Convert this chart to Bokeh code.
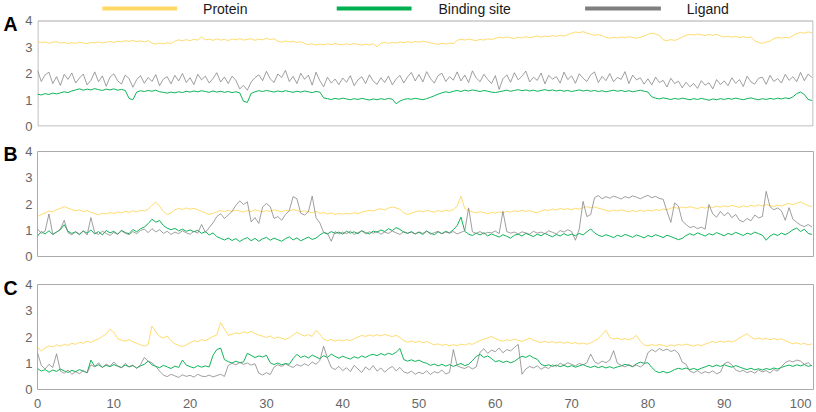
from bokeh.plotting import figure
from bokeh.layouts import column, row
from bokeh.models import Range1d, FixedTicker
from bokeh.core.properties import value
from bokeh.embed import file_html
from bokeh.resources import INLINE

# ---------------- data (time step 0.5 ns) ----------------
STEP = 0.5
series_names = ["Protein", "Binding site", "Ligand"]
series_colors = ["#FFD966", "#00B050", "#7F7F7F"]
panel_letters = ["A", "B", "C"]
x_ticks = [0, 10, 20, 30, 40, 50, 60, 70, 80, 90, 100]
y_ticks = [0, 1, 2, 3, 4]

protein_A = [
3.21,3.17,3.19,3.14,3.18,3.20,3.15,3.17,3.13,3.16,
3.14,3.18,3.15,3.12,3.17,3.16,3.19,3.15,3.18,3.21,
3.17,3.22,3.19,3.24,3.21,3.25,3.20,3.23,3.19,3.24,
3.14,3.11,3.15,3.12,3.16,3.13,3.22,3.27,3.23,3.28,
3.24,3.29,3.26,3.38,3.27,3.30,3.25,3.31,3.26,3.29,
3.24,3.30,3.27,3.32,3.26,3.29,3.31,3.25,3.30,3.27,
3.33,3.28,3.31,3.22,3.18,3.23,3.19,3.22,3.17,3.20,
3.13,3.09,3.12,3.07,3.11,3.08,3.12,3.09,3.13,3.10,
3.08,3.12,3.09,3.13,3.10,3.07,3.11,3.08,3.12,3.01,
3.14,3.18,3.13,3.17,3.15,3.19,3.16,3.20,3.17,3.21,
3.18,3.22,3.19,3.16,3.13,3.10,3.14,3.11,3.15,3.12,
3.25,3.29,3.26,3.30,3.27,3.24,3.29,3.26,3.31,3.28,
3.33,3.37,3.34,3.38,3.35,3.32,3.37,3.34,3.39,3.35,
3.38,3.42,3.37,3.41,3.39,3.43,3.40,3.44,3.41,3.47,
3.52,3.57,3.54,3.58,3.53,3.48,3.44,3.47,3.43,3.36,
3.33,3.37,3.34,3.38,3.35,3.39,3.36,3.33,3.37,3.42,
3.48,3.52,3.49,3.44,3.27,3.24,3.28,3.25,3.30,3.38,
3.44,3.48,3.45,3.49,3.46,3.43,3.47,3.44,3.48,3.42,
3.38,3.41,3.37,3.40,3.36,3.39,3.35,3.38,3.24,3.17,
3.14,3.19,3.22,3.32,3.36,3.33,3.37,3.34,3.43,3.50,
3.55,3.52,3.57,3.54]

binding_A = [
1.22,1.19,1.24,1.21,1.26,1.23,1.27,1.31,1.28,1.34,
1.38,1.42,1.37,1.41,1.38,1.43,1.39,1.36,1.41,1.38,
1.42,1.37,1.40,1.36,1.06,1.01,1.30,1.35,1.32,1.36,
1.33,1.37,1.31,1.29,1.26,1.30,1.27,1.31,1.28,1.33,
1.30,1.34,1.31,1.35,1.32,1.29,1.34,1.30,1.33,1.29,
1.32,1.28,1.31,1.27,0.95,0.91,1.25,1.31,1.35,1.32,
1.36,1.33,1.30,1.34,1.31,1.35,1.32,1.29,1.33,1.30,
1.34,1.31,1.28,1.32,1.30,1.08,1.05,1.02,1.06,1.03,
1.07,1.04,1.01,1.05,1.02,1.06,1.03,1.00,1.04,1.01,
1.05,1.02,1.06,1.03,0.86,0.96,1.02,1.05,1.03,1.06,
1.04,1.01,1.05,1.10,1.16,1.22,1.27,1.31,1.28,1.33,
1.36,1.32,1.37,1.34,1.38,1.35,1.32,1.36,1.33,1.30,
1.28,1.31,1.34,1.37,1.33,1.36,1.39,1.35,1.38,1.34,
1.37,1.33,1.36,1.39,1.35,1.38,1.34,1.37,1.33,1.36,
1.32,1.35,1.38,1.34,1.37,1.33,1.36,1.32,1.35,1.31,
1.34,1.37,1.33,1.36,1.32,1.35,1.31,1.34,1.37,1.33,
1.30,1.12,1.07,1.04,1.08,1.05,1.02,1.06,1.03,1.07,
1.04,1.01,1.05,1.02,1.06,1.03,0.99,1.04,1.01,1.05,
1.02,1.06,1.03,1.07,1.04,1.01,1.05,1.08,1.04,1.01,
1.05,1.02,1.06,1.03,1.07,1.04,1.08,1.05,1.12,1.24,
1.30,1.21,1.02,0.98]

ligand_A = [
2.12,1.70,1.95,2.05,1.62,1.88,1.55,1.97,1.78,2.02,
1.64,1.83,1.98,1.57,1.74,2.06,1.69,1.91,1.52,1.86,
1.99,1.73,1.60,1.94,1.81,1.48,1.77,1.92,1.63,1.85,
1.70,1.96,1.54,1.79,1.88,1.61,1.93,1.72,2.00,1.66,
1.84,1.58,1.97,1.76,1.90,1.64,1.81,2.03,1.68,1.87,
1.62,1.90,1.74,1.42,1.55,1.37,1.68,1.84,1.95,1.73,
2.08,1.80,1.66,1.98,1.85,2.12,1.70,1.89,1.62,2.01,
1.78,1.94,1.56,2.05,1.73,1.50,1.86,1.64,1.79,1.58,
1.83,1.67,1.92,1.54,1.76,1.88,1.62,1.95,1.71,1.59,
1.84,1.66,1.90,1.57,1.79,1.93,1.64,1.87,2.04,1.72,
1.96,1.68,2.07,1.81,1.64,1.92,2.01,1.70,1.88,1.75,
2.06,1.72,1.94,1.66,2.10,1.83,1.69,1.97,1.78,1.62,
1.92,1.40,1.80,1.95,1.67,2.03,1.76,1.90,2.09,1.68,
1.86,1.74,2.02,1.61,1.93,1.79,1.88,1.64,2.05,1.77,
1.91,1.63,1.99,1.82,1.70,1.95,2.06,1.66,1.89,1.73,
2.00,1.69,1.85,1.78,2.07,1.62,1.94,1.76,1.84,1.60,
1.80,1.57,1.86,1.66,1.74,1.49,1.82,1.62,1.71,1.46,
1.67,1.50,1.62,1.44,1.73,1.56,1.65,1.42,1.77,1.58,
1.72,1.54,1.84,1.63,1.77,1.51,1.90,1.68,1.60,1.82,
1.86,1.59,1.93,1.70,1.81,1.64,1.97,1.74,1.88,1.69,
2.04,1.73,1.98,1.85]

protein_B = [
1.52,1.60,1.66,1.73,1.70,1.78,1.83,1.90,1.84,1.79,
1.74,1.78,1.71,1.75,1.68,1.63,1.59,1.65,1.62,1.67,
1.64,1.70,1.66,1.72,1.68,1.74,1.70,1.76,1.73,1.80,
1.95,2.07,1.91,1.72,1.60,1.66,1.78,1.83,1.79,1.85,
1.80,1.84,1.78,1.72,1.66,1.60,1.64,1.70,1.75,1.71,
1.76,1.72,1.77,1.73,1.69,1.75,1.71,1.78,1.74,1.70,
1.75,1.72,1.78,1.74,1.70,1.76,1.73,1.79,1.75,1.71,
1.74,1.70,1.67,1.72,1.64,1.68,1.62,1.66,1.60,1.64,
1.61,1.65,1.62,1.67,1.63,1.69,1.72,1.76,1.73,1.79,
1.82,1.77,1.84,1.89,1.85,1.80,1.66,1.60,1.65,1.70,
1.74,1.70,1.76,1.72,1.69,1.75,1.71,1.77,1.73,1.79,
1.92,2.30,1.82,1.74,1.70,1.66,1.71,1.67,1.63,1.68,
1.65,1.70,1.66,1.72,1.69,1.74,1.71,1.76,1.72,1.75,
1.70,1.66,1.73,1.78,1.75,1.81,1.77,1.83,1.79,1.82,
1.78,1.84,1.80,1.86,1.90,1.85,1.89,1.84,1.80,1.76,
1.72,1.77,1.73,1.78,1.74,1.70,1.75,1.71,1.76,1.72,
1.77,1.73,1.79,1.75,1.81,1.78,1.84,1.87,1.83,1.89,
1.85,1.90,1.86,1.82,1.88,1.84,1.90,1.86,1.92,1.88,
1.93,1.89,1.95,1.91,1.87,1.93,1.89,1.95,1.91,1.97,
1.92,1.98,1.94,1.90,1.96,1.92,1.98,2.02,1.97,2.03,
2.08,2.01,1.94,1.90]

binding_B = [
0.78,0.95,0.86,0.98,0.84,0.93,1.02,1.21,0.96,0.88,
0.94,0.83,0.97,0.89,1.01,0.86,0.95,0.82,0.99,0.90,
0.96,0.85,1.00,0.91,0.87,1.03,0.94,1.06,1.12,1.25,
1.42,1.31,1.37,1.18,1.08,1.02,1.07,0.98,1.04,0.96,
1.01,0.94,1.00,0.88,0.95,0.82,0.90,0.76,0.69,0.63,
0.70,0.61,0.68,0.57,0.66,0.72,0.60,0.69,0.58,0.67,
0.73,0.62,0.70,0.64,0.58,0.68,0.75,0.63,0.71,0.60,
0.67,0.74,0.65,0.70,0.82,0.91,0.86,0.95,0.88,0.93,
0.85,0.96,0.89,0.94,0.87,0.98,0.91,0.86,0.97,0.92,
1.01,0.95,1.06,0.99,1.10,1.03,0.93,0.88,0.95,0.86,
0.92,0.84,0.97,0.89,0.83,0.94,0.87,0.96,0.90,1.02,
1.18,1.50,0.96,0.85,0.80,0.89,0.82,0.91,0.78,0.86,
0.80,0.74,0.83,0.77,0.70,0.81,0.85,0.78,0.88,0.82,
0.76,0.85,0.79,0.88,0.81,0.75,0.84,0.78,0.87,0.80,
0.85,0.79,0.88,0.82,0.94,1.05,0.90,0.81,0.76,0.83,
0.78,0.72,0.81,0.76,0.84,0.79,0.73,0.82,0.77,0.71,
0.80,0.75,0.83,0.78,0.72,0.81,0.76,0.70,0.64,0.69,
0.80,0.87,0.81,0.90,0.84,0.78,0.87,0.82,0.91,0.85,
0.79,0.88,0.83,0.92,0.86,0.80,0.89,0.84,0.93,0.87,
0.81,0.62,0.78,0.86,0.80,0.89,0.83,0.91,1.02,1.08,
0.95,1.04,0.88,0.84]

ligand_B = [
1.05,0.88,0.97,1.62,0.85,0.93,1.05,1.38,0.90,0.83,
0.94,0.86,0.98,0.82,1.48,0.91,0.84,0.96,0.88,0.80,
0.92,0.85,0.97,0.89,0.83,0.95,0.87,0.99,1.04,0.91,
1.06,0.94,1.02,0.88,0.96,0.84,0.93,0.87,0.98,0.90,
0.85,0.96,0.89,1.22,0.92,1.10,1.28,1.52,1.63,1.45,
1.58,1.72,1.95,2.12,1.98,2.08,1.32,1.48,1.26,1.88,
2.02,1.90,1.45,1.52,1.38,1.60,1.75,2.28,2.20,1.65,
1.58,1.70,2.30,1.48,1.28,0.92,0.88,0.58,0.95,0.86,
0.93,0.87,0.97,0.84,0.91,0.98,0.86,0.94,0.89,0.96,
0.85,0.93,0.88,0.97,0.90,0.84,0.95,0.89,0.92,0.86,
0.94,0.88,0.97,0.85,0.91,0.96,0.87,0.93,0.89,0.95,
0.86,0.92,0.98,1.85,0.94,0.88,0.95,0.86,0.92,0.90,
0.97,0.87,1.72,0.95,0.89,0.93,0.86,0.94,0.90,0.85,
0.96,0.89,0.93,0.87,0.98,0.92,0.86,0.99,0.93,1.02,
0.95,0.62,1.05,2.10,1.52,1.60,2.24,2.32,2.20,2.28,
2.22,2.30,2.25,2.19,2.28,2.23,2.31,2.26,2.20,2.27,
2.33,2.24,2.29,2.21,2.18,1.72,1.30,2.04,1.92,1.35,
1.22,1.10,1.15,1.06,1.12,1.04,1.98,1.62,1.50,1.72,
1.55,1.68,1.48,1.60,1.38,1.32,1.45,1.36,1.58,1.47,
1.52,2.48,1.90,1.78,1.85,1.74,1.38,1.86,1.42,1.30,
1.20,1.14,1.22,1.12]

protein_C = [
1.62,1.46,1.58,1.66,1.62,1.70,1.65,1.72,1.68,1.76,
1.72,1.80,1.76,1.84,1.79,1.87,1.93,2.02,2.12,2.30,
2.18,1.94,1.88,1.84,1.90,1.82,1.76,1.70,1.65,1.71,
2.42,2.20,2.02,1.96,2.04,1.86,1.74,1.68,1.64,1.70,
1.78,1.86,1.82,1.90,1.86,1.94,2.02,2.08,2.55,2.30,
2.06,2.10,2.16,2.12,2.20,2.15,2.22,2.13,2.08,2.03,
1.98,2.04,1.94,2.00,1.95,1.91,1.97,2.08,2.18,2.10,
2.04,2.09,2.02,2.26,2.10,1.92,1.86,1.91,1.84,1.89,
1.85,1.90,1.86,1.93,2.00,2.06,2.02,2.08,2.03,2.09,
2.04,2.10,2.06,2.01,2.07,1.98,1.86,1.80,1.85,1.79,
1.84,1.78,1.83,1.76,1.70,1.74,1.68,1.72,1.66,1.71,
1.67,1.73,1.69,1.75,1.72,1.80,1.86,1.92,1.96,2.02,
1.94,1.88,1.84,1.90,1.86,1.92,1.87,1.83,1.89,1.96,
1.88,1.83,1.79,1.84,1.78,1.83,1.77,1.82,1.76,1.81,
1.75,1.79,1.73,1.77,1.72,1.78,1.86,1.94,2.10,2.26,
1.98,1.92,1.96,1.90,1.94,1.89,1.95,2.06,1.84,1.70,
1.66,1.71,1.67,1.72,1.68,1.64,1.70,1.66,1.72,1.68,
1.73,1.69,1.65,1.71,1.67,1.73,1.78,1.83,1.79,1.84,
1.80,1.85,1.81,1.87,1.96,2.05,2.12,2.00,1.92,1.96,
1.91,1.95,1.90,1.94,1.89,1.93,1.86,1.80,1.74,1.78,
1.72,1.76,1.70,1.74]

binding_C = [
0.80,0.70,0.76,0.66,0.74,0.69,0.78,0.71,0.65,0.73,
0.68,0.76,0.70,0.64,1.12,0.88,0.94,0.85,0.92,0.87,
0.95,0.89,0.84,0.93,0.86,0.91,0.82,0.90,0.96,1.08,
0.94,0.88,0.83,0.92,0.86,0.80,0.89,0.84,1.12,0.93,
0.87,0.82,0.91,0.85,0.90,0.86,1.30,1.52,1.58,1.14,
1.06,1.01,1.08,1.02,1.05,1.38,1.30,1.22,1.28,1.24,
1.30,1.02,0.95,1.01,0.94,0.99,0.96,1.18,1.34,1.22,
1.28,1.20,1.31,1.24,1.17,1.29,1.22,1.35,1.26,1.19,
1.27,1.21,1.16,1.25,1.19,1.28,1.22,1.30,1.34,1.29,
1.37,1.31,1.38,1.33,1.42,1.56,1.14,1.08,1.13,1.07,
1.12,1.04,1.00,0.92,0.97,0.90,0.96,0.89,0.95,0.88,
0.94,0.99,0.91,0.96,1.10,1.26,1.34,1.22,1.28,1.18,
1.06,1.10,1.03,1.08,1.02,1.07,1.18,1.27,1.22,1.30,
1.21,1.15,0.96,0.90,0.94,0.88,0.93,0.87,0.92,0.86,
0.91,0.85,0.90,0.95,0.88,0.84,0.89,0.83,0.88,0.82,
0.87,0.81,0.86,0.90,0.96,0.92,0.87,0.98,1.04,1.00,
1.02,0.84,0.70,0.64,0.69,0.63,0.68,0.76,0.81,0.77,
0.82,0.76,0.80,0.75,0.81,0.86,0.92,0.87,0.93,0.88,
0.94,0.89,0.85,0.91,0.86,0.80,0.76,0.81,0.75,0.79,
0.74,0.80,0.76,0.82,0.78,0.84,0.89,0.93,0.88,0.94,
0.90,0.95,0.88,0.92]

ligand_C = [
1.40,0.92,0.78,0.96,0.84,1.36,0.70,0.62,0.74,0.58,
0.68,0.60,0.72,0.63,0.94,0.86,1.02,0.83,0.97,0.88,
1.05,0.90,0.82,0.99,0.87,0.93,0.80,0.95,1.22,1.08,
1.02,0.88,0.70,0.55,0.49,0.58,0.52,0.46,0.56,0.50,
0.54,0.47,0.58,0.51,0.49,0.55,0.48,0.53,0.58,0.50,
0.92,1.00,0.94,1.03,0.96,1.01,0.93,0.98,0.62,0.55,
0.64,0.57,0.85,0.94,0.88,0.97,0.90,0.84,0.95,0.89,
0.98,0.91,1.05,0.96,1.10,1.65,1.20,0.84,0.76,0.88,
0.72,0.83,0.68,0.92,0.78,0.65,0.86,0.74,0.91,0.70,
0.82,0.66,0.79,0.88,0.71,0.84,0.67,0.62,0.70,0.58,
0.66,0.60,0.71,0.57,0.68,0.63,0.74,0.59,0.65,1.52,
0.90,0.84,0.80,0.88,0.78,0.86,1.42,1.55,1.38,1.50,
1.44,1.58,1.40,1.52,1.47,1.60,1.72,0.58,0.78,0.88,
0.82,0.90,0.77,0.86,0.80,0.94,0.88,1.00,0.93,1.02,
0.96,0.90,0.99,0.94,1.02,1.35,1.06,0.98,1.08,1.02,
1.12,1.48,1.00,0.92,0.86,0.95,0.88,0.93,0.86,0.96,
1.40,1.52,1.44,1.56,1.48,1.54,1.45,1.50,1.38,1.04,
0.96,0.70,0.64,0.72,0.61,0.68,0.63,0.71,0.60,0.66,
0.98,1.05,0.94,0.75,0.68,0.73,0.64,0.70,0.62,0.74,
0.67,0.72,0.63,0.76,0.70,0.88,1.02,1.10,1.05,1.12,
1.08,0.96,1.02,0.90]

panels = [
    [protein_A, binding_A, ligand_A],
    [protein_B, binding_B, ligand_B],
    [protein_C, binding_C, ligand_C],
]

# ---------------- styling / layout ----------------
FONT = "Liberation Sans"
TICK_COLOR = "#666666"
BOX_COLOR = "#ABABAB"
X_END = 101.7
TOTAL_H = 412
LETTER_W = 22
RIGHT_W = 816 - LETTER_W
FRAME_L, FRAME_R = 35, 813          # page x of the plotting frames
A_TOP, A_BOTTOM = 20, 126           # page y of panel A's box

# left strip carrying the panel letters (page pixel coordinates)
lett = figure(width=LETTER_W, height=TOTAL_H, x_range=Range1d(0, LETTER_W),
              y_range=Range1d(TOTAL_H, 0), toolbar_location=None, output_backend="svg",
              x_axis_location=None, y_axis_location=None, min_border=0)
lett.outline_line_color = None
lett.xgrid.visible = False
lett.ygrid.visible = False
lett.text([3, 3, 3], [23, 153, 287], text=panel_letters, text_font=value(FONT),
          text_font_style="bold", text_font_size=value("19.5px"), text_color="black",
          text_baseline="middle", text_align="left")

figs = []
specs = [  # height, border top, border bottom, show x axis
    (139, 0, 13, False),
    (131, 12, 14, False),
    (142, 14, 23, True),
]
for k, (data, (h, bt, bb, showx)) in enumerate(zip(panels, specs)):
    y_top = 4 if k > 0 else 4 * A_BOTTOM / (A_BOTTOM - A_TOP)
    p = figure(width=RIGHT_W, height=h, x_range=Range1d(0, X_END), y_range=Range1d(0, y_top),
               toolbar_location=None, output_backend="svg",
               min_border_left=FRAME_L - LETTER_W, min_border_right=816 - FRAME_R,
               min_border_top=bt, min_border_bottom=bb)
    p.xgrid.visible = False
    p.ygrid.visible = False
    p.background_fill_color = "white"
    p.border_fill_color = "white"
    if k == 0:
        # panel A's frame also holds the legend strip; its box and legend use page pixels
        p.outline_line_color = None
        p.extra_x_ranges = {"px": Range1d(FRAME_L, FRAME_R)}
        p.extra_y_ranges = {"px": Range1d(A_BOTTOM, 0)}
        p.quad(left=[FRAME_L + 0.5], right=[FRAME_R - 0.5], top=[A_TOP + 0.5],
               bottom=[A_BOTTOM - 0.5], fill_color=None, line_color=BOX_COLOR,
               line_width=1, x_range_name="px", y_range_name="px")
        leg_line_x = [(100, 175), (335, 410), (584, 660)]
        leg_text_x = [201, 437, 686]
        for (x0, x1), tx, name, col in zip(leg_line_x, leg_text_x, series_names, series_colors):
            p.line([x0, x1], [8, 8], line_color=col, line_width=4,
                   x_range_name="px", y_range_name="px")
            p.text([tx], [8.3], text=[name], text_font=value(FONT),
                   text_font_size=value("14px"), text_color="#1a1a1a",
                   text_baseline="middle", text_align="left",
                   x_range_name="px", y_range_name="px")
    else:
        p.outline_line_color = BOX_COLOR
        p.outline_line_width = 1
    for vals, col, name in zip(data, series_colors, series_names):
        xs = [i * STEP for i in range(len(vals))]
        lw = 1.0 if name != "Ligand" else 0.8
        p.line(xs, vals, line_color=col, line_width=lw, line_alpha=0.95)
    for ax in (p.yaxis[0], p.xaxis[0]):
        ax.axis_line_color = None
        ax.major_tick_line_color = None
        ax.minor_tick_line_color = None
        ax.major_tick_out = 0
        ax.major_tick_in = 0
        ax.minor_tick_out = 0
        ax.minor_tick_in = 0
        ax.major_label_text_font = FONT
        ax.major_label_text_font_size = "13px"
        ax.major_label_text_color = TICK_COLOR
    p.yaxis[0].major_label_standoff = 5
    p.xaxis[0].major_label_standoff = 9
    p.yaxis[0].ticker = FixedTicker(ticks=y_ticks)
    p.xaxis[0].ticker = FixedTicker(ticks=x_ticks)
    p.xaxis[0].visible = showx
    figs.append(p)

layout = row(lett, column(*figs, spacing=0), spacing=0)
open("out.html", "w").write(file_html(layout, INLINE))
